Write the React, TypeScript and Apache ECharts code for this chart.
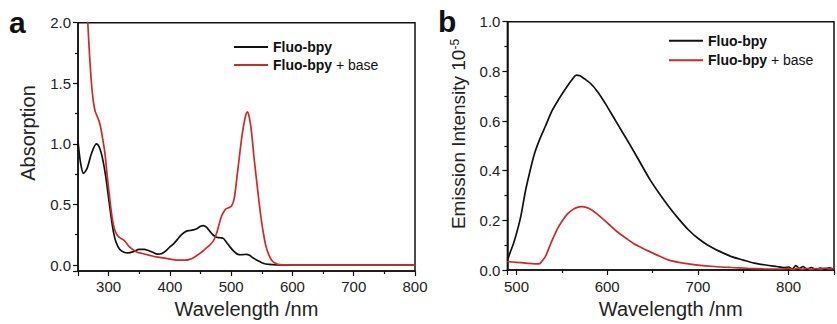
import React, { useEffect, useRef } from "react";
import * as echarts from "echarts";

const FONT = "'Liberation Sans', Arial, sans-serif";
const RED = "#cf2a2a";

const absWlBlack = [250, 254, 259, 265, 272, 280, 285, 290, 295, 300, 304, 308, 312, 318, 325, 332, 340, 350, 358, 365, 372, 380, 387, 394, 400, 405, 412, 419, 427, 433, 438, 444, 450, 455, 460, 465, 470, 476, 482, 487, 492, 498, 504, 510, 516, 521, 525, 530, 536, 544, 552, 562, 574, 590, 620, 700, 800];
const absBlack = [1.02, 0.85, 0.757, 0.8, 0.92, 1.0, 0.97, 0.88, 0.74, 0.55, 0.4, 0.27, 0.19, 0.13, 0.105, 0.1, 0.11, 0.13, 0.13, 0.12, 0.105, 0.09, 0.095, 0.12, 0.15, 0.17, 0.21, 0.25, 0.28, 0.285, 0.29, 0.3, 0.32, 0.325, 0.31, 0.28, 0.25, 0.23, 0.225, 0.22, 0.19, 0.15, 0.115, 0.09, 0.085, 0.087, 0.088, 0.08, 0.058, 0.035, 0.015, 0.005, 0.001, 0, 0, 0, 0];

const absWlRed = [262, 266, 269, 272, 275, 278, 282, 286, 290, 294, 298, 302, 306, 310, 315, 320, 326, 334, 345, 355, 367, 380, 394, 405, 416, 425, 432, 440, 449, 457, 465, 471, 476, 480, 484, 488, 492, 497, 501, 505, 510, 514, 518, 521, 524, 526, 528, 531, 534, 537, 541, 545, 549, 553, 557, 561, 566, 572, 580, 600, 700, 800];
const absRed = [2.5, 2.0, 1.72, 1.5, 1.35, 1.27, 1.22, 1.16, 1.05, 0.92, 0.72, 0.54, 0.38, 0.29, 0.24, 0.22, 0.2, 0.15, 0.11, 0.095, 0.08, 0.065, 0.055, 0.045, 0.04, 0.04, 0.047, 0.065, 0.096, 0.13, 0.165, 0.2, 0.26, 0.33, 0.4, 0.44, 0.465, 0.475, 0.49, 0.55, 0.75, 0.92, 1.08, 1.17, 1.24, 1.265, 1.25, 1.18, 1.06, 0.9, 0.72, 0.54, 0.38, 0.25, 0.15, 0.09, 0.04, 0.015, 0.003, 0, 0, 0];

const emWlBlack = [490, 493, 497, 501, 505, 510, 515, 520, 526, 532, 539, 547, 555, 562, 566, 570, 575, 582, 590, 598, 607, 616, 625, 636, 647, 658, 668, 679, 690, 700, 711, 724, 737, 750, 762, 775, 787, 795, 800, 804, 808, 812, 816, 820, 825, 830, 835, 840, 845, 850];
const emBlack = [0.04, 0.07, 0.11, 0.16, 0.22, 0.32, 0.4, 0.47, 0.53, 0.58, 0.64, 0.69, 0.735, 0.77, 0.785, 0.782, 0.77, 0.75, 0.715, 0.67, 0.615, 0.56, 0.505, 0.435, 0.365, 0.305, 0.255, 0.205, 0.16, 0.128, 0.1, 0.075, 0.054, 0.04, 0.028, 0.02, 0.014, 0.01, 0.012, 0.004, 0.018, 0.006, 0.014, 0.003, 0.01, 0.002, 0.008, 0.004, 0.009, 0.003];

const emWlRed = [490, 500, 510, 520, 525, 528, 532, 536, 540, 545, 550, 556, 562, 567, 572, 577, 583, 590, 597, 604, 611, 620, 629, 638, 647, 658, 668, 684, 700, 718, 737, 755, 772, 790, 800, 805, 810, 815, 820, 825, 830, 835, 840, 845, 850];
const emRed = [0.034, 0.031, 0.028, 0.025, 0.025, 0.035, 0.055, 0.09, 0.125, 0.165, 0.195, 0.225, 0.243, 0.252, 0.255, 0.252, 0.242, 0.222, 0.2, 0.177, 0.154, 0.13, 0.107, 0.09, 0.074, 0.055, 0.04, 0.028, 0.02, 0.014, 0.01, 0.007, 0.005, 0.004, 0.006, 0.002, 0.008, 0.003, 0.007, 0.002, 0.006, 0.003, 0.008, 0.004, 0.006];

const seriesNames = ["Fluo-bpy", "Fluo-bpy + base"];

const zip = (xs: number[], ys: number[]) => xs.map((x, i) => [x, ys[i]]);

export default function App() {
  const ref = useRef<HTMLDivElement>(null);
  useEffect(() => {
    if (!ref.current) return;
    const chart = echarts.init(ref.current, undefined, { renderer: "svg" });
    const axisCommon = {
      axisLine: { show: true, onZero: false, lineStyle: { color: "#111", width: 1.5 } },
      axisTick: { show: true, inside: false, length: 5, lineStyle: { color: "#111", width: 1.2 } },
      minorTick: { show: true, splitNumber: 2, length: 3, lineStyle: { color: "#111", width: 1.2 } },
      splitLine: { show: false },
      minorSplitLine: { show: false },
    };
    const labelStyle = { color: "#222", fontSize: 15, fontFamily: FONT };
    const nameStyle = { color: "#222", fontSize: 20, fontFamily: FONT };
    const legendRich = {
      b: { fontWeight: "bold", fontSize: 14, fontFamily: FONT, color: "#111" },
      n: { fontSize: 14, fontFamily: FONT, color: "#111" },
    };
    const legendFmt = (name: string) => (name === "Fluo-bpy" ? "{b|Fluo-bpy}" : "{b|Fluo-bpy}{n| + base}");
    const lineSeries = (name: string, color: string, xi: number, data: number[][]) => ({
      type: "line",
      name,
      xAxisIndex: xi,
      yAxisIndex: xi,
      data,
      showSymbol: false,
      symbol: "none",
      smooth: 0.3,
      clip: true,
      lineStyle: { color, width: 1.7 },
      itemStyle: { color },
    });
    const legendBase = {
      orient: "vertical",
      padding: 0,
      itemWidth: 34,
      itemHeight: 14,
      data: seriesNames,
      formatter: legendFmt,
      textStyle: { rich: legendRich },
      selectedMode: false,
      itemStyle: { opacity: 0, borderWidth: 0 },
    };
    chart.setOption({
      animation: false,
      backgroundColor: "#fff",
      grid: [
        { left: 78, top: 22.7, width: 337, height: 248.8, show: true, borderColor: "#111", borderWidth: 1.5, containLabel: false },
        { left: 507.4, top: 21.7, width: 334.8, height: 248.3, show: true, borderColor: "#111", borderWidth: 1.5, containLabel: false },
      ],
      xAxis: [
        {
          ...axisCommon,
          type: "value",
          gridIndex: 0,
          min: 250,
          max: 800,
          splitNumber: 5,
          axisLabel: { ...labelStyle, margin: 8, formatter: (v: number) => (v < 300 ? "" : String(v)) },
          name: "Wavelength /nm",
          nameLocation: "middle",
          nameGap: 27,
          nameTextStyle: nameStyle,
        },
        {
          ...axisCommon,
          type: "value",
          gridIndex: 1,
          min: 490,
          max: 850,
          splitNumber: 5,
          axisLabel: { ...labelStyle, margin: 9, formatter: (v: number) => (v < 500 || v > 800 ? "" : String(v)) },
          name: "Wavelength /nm",
          nameLocation: "middle",
          nameGap: 28,
          nameTextStyle: nameStyle,
        },
      ],
      yAxis: [
        {
          ...axisCommon,
          type: "value",
          gridIndex: 0,
          min: -0.05,
          max: 2.0,
          splitNumber: 4,
          axisLabel: { ...labelStyle, margin: 7, formatter: (v: number) => (v < 0 ? "" : v.toFixed(1)) },
        },
        {
          ...axisCommon,
          type: "value",
          gridIndex: 1,
          min: 0,
          max: 1.0,
          interval: 0.2,
          axisLabel: { ...labelStyle, margin: 7, formatter: (v: number) => v.toFixed(1) },
        },
      ],
      legend: [
        { ...legendBase, left: 233, top: 40, itemGap: 4 },
        { ...legendBase, left: 668, top: 33.7, itemGap: 5.5 },
      ],
      graphic: [
        {
          type: "text",
          x: 9,
          y: 22.6,
          style: { text: "a", fontSize: 30, fontWeight: "bold", fontFamily: FONT, fill: "#111", align: "left", verticalAlign: "middle" },
        },
        {
          type: "text",
          x: 438,
          y: 21.6,
          style: { text: "b", fontSize: 30, fontWeight: "bold", fontFamily: FONT, fill: "#111", align: "left", verticalAlign: "middle" },
        },
        {
          type: "text",
          x: 28,
          y: 133,
          rotation: Math.PI / 2,
          style: { text: "Absorption", fontSize: 20, fontFamily: FONT, fill: "#222", align: "center", verticalAlign: "middle" },
        },
        {
          type: "text",
          x: 458,
          y: 134,
          rotation: Math.PI / 2,
          style: {
            text: "Emission Intensity 10{sup|-5}",
            fontSize: 19,
            fontFamily: FONT,
            fill: "#222",
            align: "center",
            verticalAlign: "middle",
            rich: {
              sup: { fontSize: 12, fontFamily: FONT, fill: "#222", verticalAlign: "top", lineHeight: 12 },
            },
          },
        },
      ],
      series: [
        lineSeries("Fluo-bpy", "#111", 0, zip(absWlBlack, absBlack)),
        lineSeries("Fluo-bpy + base", RED, 0, zip(absWlRed, absRed)),
        lineSeries("Fluo-bpy", "#111", 1, zip(emWlBlack, emBlack)),
        lineSeries("Fluo-bpy + base", RED, 1, zip(emWlRed, emRed)),
      ],
    });
    return () => chart.dispose();
  }, []);
  return <div ref={ref} style={{ position: "fixed", left: 0, top: 0, width: 837, height: 324 }} />;
}
